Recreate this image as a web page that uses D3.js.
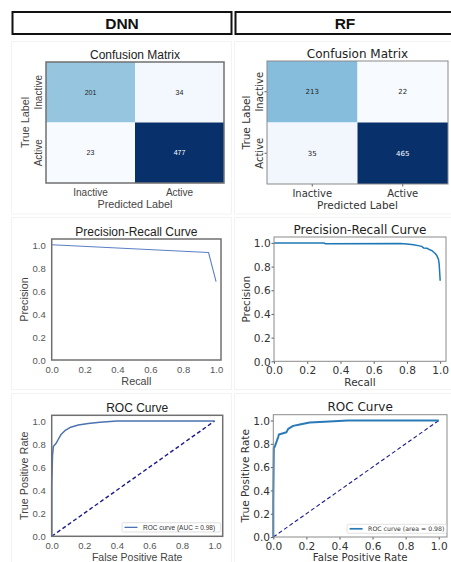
<!DOCTYPE html>
<html>
<head>
<meta charset="utf-8">
<script src="https://cdn.jsdelivr.net/npm/d3@7"></script>
<style>
body { margin: 0; background: #fff; }
svg { display: block; }
</style>
</head>
<body>
<svg id="chart" width="451" height="562"></svg>
<script>
var models = ['DNN', 'RF'];
var cmLabels = ['Inactive', 'Active'];
var cmTitle = 'Confusion Matrix';

// rows = true label, columns = predicted label
var dnnMatrix = [[201, 34], [23, 477]];
var rfMatrix = [[213, 22], [35, 465]];

var dnnPrRecall = [0, 0.954, 1.0];
var dnnPrPrecision = [1.0, 0.933, 0.68];
var rfPrRecall = [0, 0.30, 0.31, 0.76, 0.80, 0.84, 0.875, 0.89, 0.90, 0.92, 0.935, 0.95, 0.96, 0.97, 0.98, 0.99, 0.994, 1.0];
var rfPrPrecision = [1.0, 1.0, 0.993, 0.995, 0.99, 0.985, 0.975, 0.97, 0.958, 0.955, 0.944, 0.935, 0.923, 0.91, 0.893, 0.86, 0.82, 0.68];

var dnnRocFpr = [0, 0, 0.005, 0.01, 0.026, 0.04, 0.057, 0.081, 0.112, 0.163, 0.224, 0.296, 0.4, 1.0];
var dnnRocTpr = [0, 0.45, 0.70, 0.78, 0.805, 0.84, 0.883, 0.916, 0.944, 0.965, 0.979, 0.99, 1.0, 1.0];
var rfRocFpr = [0, 0, 0.003, 0.01, 0.02, 0.03, 0.034, 0.08, 0.09, 0.12, 0.16, 0.22, 0.31, 0.45, 1.0];
var rfRocTpr = [0, 0.306, 0.763, 0.78, 0.82, 0.86, 0.88, 0.90, 0.928, 0.954, 0.966, 0.983, 0.99, 1.0, 1.0];

var rateTicks = [0, 0.2, 0.4, 0.6, 0.8, 1.0];
var legendLabels = { DNN: 'ROC curve (AUC = 0.98)', RF: 'ROC curve (area = 0.98)' };

var styles = {
	DNN: { font: "'Liberation Sans', Arial, sans-serif", tick: 9.5, label: 10.8, title: 12, tickFill: '#555', textFill: '#444', frame: '#707070', frameW: 1.5,
		mark: 0, yPad: 6, tickY: 9.7, prColor: '#5a7fc2', prW: 1.1, rocColor: '#4c72b0', rocW: 1.5, diagW: 1.4, legendFont: 6.5, legendW: 98.7, legendH: 9.3, legendR: 2, legendB: 4.3 },
	RF: { font: "'DejaVu Sans', sans-serif", tick: 10.6, label: 10.5, title: 12, tickFill: '#333', textFill: '#333', frame: '#8a8a8a', frameW: 1,
		mark: 2.5, yPad: 3.3, tickY: 8.8, prColor: '#1f77b4', prW: 1.5, rocColor: '#2a7ab8', rocW: 2, diagW: 1.1, legendFont: 6.2, legendW: 99.4, legendH: 9, legendR: 0.5, legendB: 3.7 }
};

var layout = {
	DNN: { col: 11.5, cm: { x0: 46, x1: 224, y0: 62, y1: 183 }, pr: { x0: 51.7, x1: 221, y0: 239, y1: 360, xMax: 1.03 }, roc: { x0: 51.7, x1: 222.7, y0: 415.3, y1: 536.3, xMax: 1.05 } },
	RF: { col: 234.5, cm: { x0: 267, x1: 448, y0: 61, y1: 184 }, pr: { x0: 274, x1: 446, y0: 237, y1: 361.3, xMax: 1.035 }, roc: { x0: 273.3, x1: 447, y0: 414.7, y1: 537, xMax: 1.05 } }
};

var svg = d3.select( '#chart' );

// faint panel outlines
var rows = [ [41.5, 172.5], [217.5, 172], [393.5, 170] ];
models.forEach( function ( m ) {
	rows.forEach( function ( r ) {
		svg.append( 'rect' )
			.attr( 'x', layout[m].col ).attr( 'y', r[0] )
			.attr( 'width', 220 ).attr( 'height', r[1] )
			.attr( 'fill', 'none' ).attr( 'stroke', '#f3f3f3' ).attr( 'stroke-width', 1 );
	} );

	// header box
	svg.append( 'rect' )
		.attr( 'x', layout[m].col + 1 ).attr( 'y', 12 )
		.attr( 'width', 219 ).attr( 'height', 22 )
		.attr( 'fill', '#fff' ).attr( 'stroke', '#111' ).attr( 'stroke-width', 2 );
	svg.append( 'text' )
		.attr( 'x', layout[m].col + 110.5 ).attr( 'y', 28.5 )
		.attr( 'text-anchor', 'middle' )
		.style( 'font-family', "'Liberation Sans', Arial, sans-serif" )
		.style( 'font-weight', 'bold' ).style( 'font-size', '15.5px' ).attr( 'fill', '#111' )
		.text( m );
} );

function addText( g, s, size, fill ) {
	return g.append( 'text' )
		.style( 'font-family', s.font ).style( 'font-size', size + 'px' )
		.attr( 'fill', fill || '#222' );
}

function titles( g, s, b, title, xLabel, yLabel, yGap, xGap, xSize ) {
	addText( g, s, s.title )
		.attr( 'x', ( b.x0 + b.x1 ) / 2 ).attr( 'y', b.y0 - 7.5 ).attr( 'dy', '0.35em' )
		.attr( 'text-anchor', 'middle' ).text( title );
	addText( g, s, xSize || s.label, s.textFill )
		.attr( 'x', ( b.x0 + b.x1 ) / 2 ).attr( 'y', b.y1 + ( xGap || 21.5 ) ).attr( 'dy', '0.35em' )
		.attr( 'text-anchor', 'middle' ).text( xLabel );
	addText( g, s, s.label, s.textFill )
		.attr( 'transform', 'translate(' + ( b.x0 - yGap ) + ',' + ( ( b.y0 + b.y1 ) / 2 ) + ') rotate(-90)' )
		.attr( 'dy', '0.35em' ).attr( 'text-anchor', 'middle' ).text( yLabel );
}

function frame( g, s, b ) {
	g.append( 'rect' )
		.attr( 'x', b.x0 ).attr( 'y', b.y0 )
		.attr( 'width', b.x1 - b.x0 ).attr( 'height', b.y1 - b.y0 )
		.attr( 'fill', 'none' ).attr( 'stroke', s.frame ).attr( 'stroke-width', s.frameW );
}

function drawCM( m, matrix ) {
	var s = styles[m], b = layout[m].cm;
	var g = svg.append( 'g' );

	var x = d3.scaleBand().domain( cmLabels ).range( [ b.x0, b.x1 ] );
	var y = d3.scaleBand().domain( cmLabels ).range( [ b.y0, b.y1 ] );
	var flat = d3.merge( matrix );
	var color = d3.scaleSequential( d3.interpolateBlues ).domain( d3.extent( flat ) );
	var thresh = d3.max( flat ) / 2;

	var cells = [];
	matrix.forEach( function ( row, i ) {
		row.forEach( function ( v, j ) {
			cells.push( { t: cmLabels[i], p: cmLabels[j], v: v } );
		} );
	} );

	g.selectAll( 'rect.cell' ).data( cells ).enter().append( 'rect' )
		.attr( 'x', function ( d ) { return x( d.p ); } )
		.attr( 'y', function ( d ) { return y( d.t ); } )
		.attr( 'width', x.bandwidth() ).attr( 'height', y.bandwidth() )
		.attr( 'fill', function ( d ) { return color( d.v ); } );

	g.selectAll( 'text.val' ).data( cells ).enter().append( 'text' )
		.attr( 'x', function ( d ) { return x( d.p ) + x.bandwidth() / 2; } )
		.attr( 'y', function ( d ) { return y( d.t ) + y.bandwidth() / 2; } )
		.attr( 'dy', '0.35em' ).attr( 'text-anchor', 'middle' )
		.style( 'font-family', s.font ).style( 'font-size', '7px' )
		.attr( 'fill', function ( d ) { return d.v > thresh ? '#fff' : '#222'; } )
		.text( function ( d ) { return d.v; } );

	var xa = g.append( 'g' ).attr( 'transform', 'translate(0,' + b.y1 + ')' )
		.call( d3.axisBottom( x ).tickSize( s.mark ) );
	xa.select( '.domain' ).remove();
	xa.selectAll( '.tick line' ).attr( 'stroke', '#333' ).attr( 'stroke-width', 0.8 );
	xa.selectAll( '.tick text' )
		.attr( 'y', 9.7 ).attr( 'dy', '0.35em' )
		.style( 'font-family', s.font ).style( 'font-size', '10px' ).attr( 'fill', s.textFill );

	var ya = g.append( 'g' ).attr( 'transform', 'translate(' + b.x0 + ',0)' )
		.call( d3.axisLeft( y ).tickSize( s.mark ).tickFormat( '' ) );
	ya.select( '.domain' ).remove();
	ya.selectAll( '.tick line' ).attr( 'stroke', '#333' ).attr( 'stroke-width', 0.8 );

	g.selectAll( 'text.ytick' ).data( cmLabels ).enter().append( 'text' )
		.attr( 'transform', function ( d ) {
			return 'translate(' + ( b.x0 - 8 ) + ',' + ( y( d ) + y.bandwidth() / 2 ) + ') rotate(-90)';
		} )
		.attr( 'dy', '0.35em' ).attr( 'text-anchor', 'middle' )
		.style( 'font-family', s.font ).style( 'font-size', '10px' ).attr( 'fill', s.textFill )
		.text( function ( d ) { return d; } );

	frame( g, s, b );
	titles( g, s, b, cmTitle, 'Predicted Label', 'True Label', 20.5 );
}

function drawCurve( m, kind, xs, ys ) {
	var s = styles[m], b = layout[m][kind];
	var g = svg.append( 'g' );

	var x = d3.scaleLinear().domain( [ 0, b.xMax ] ).range( [ b.x0, b.x1 ] );
	var y = d3.scaleLinear().domain( [ 0, 1.05 ] ).range( [ b.y1, b.y0 ] );

	var xa = g.append( 'g' ).attr( 'transform', 'translate(0,' + b.y1 + ')' )
		.call( d3.axisBottom( x ).tickValues( rateTicks ).tickFormat( d3.format( '.1f' ) ).tickSize( s.mark ) );
	var ya = g.append( 'g' ).attr( 'transform', 'translate(' + b.x0 + ',0)' )
		.call( d3.axisLeft( y ).tickValues( rateTicks ).tickFormat( d3.format( '.1f' ) ).tickSize( s.mark ) );
	[ xa, ya ].forEach( function ( a ) {
		a.select( '.domain' ).remove();
		a.selectAll( '.tick line' ).attr( 'stroke', '#333' ).attr( 'stroke-width', 0.8 );
		a.selectAll( '.tick text' )
			.style( 'font-family', s.font ).style( 'font-size', s.tick + 'px' ).attr( 'fill', s.tickFill )
			.attr( 'dy', '0.35em' );
	} );
	xa.selectAll( '.tick text' ).attr( 'y', s.tickY );
	ya.selectAll( '.tick text' ).attr( 'x', -s.yPad );

	var line = d3.line()
		.x( function ( i ) { return x( xs[i] ); } )
		.y( function ( i ) { return y( ys[i] ); } );

	if ( kind === 'roc' ) {
		g.append( 'line' )
			.attr( 'x1', x( 0 ) ).attr( 'y1', y( 0 ) )
			.attr( 'x2', x( 1 ) ).attr( 'y2', y( 1 ) )
			.attr( 'stroke', '#1a1a8c' ).attr( 'stroke-width', s.diagW )
			.attr( 'stroke-dasharray', '4,2.6' );
	}

	g.append( 'path' )
		.datum( d3.range( xs.length ) )
		.attr( 'd', line )
		.attr( 'fill', 'none' )
		.attr( 'stroke', kind === 'roc' ? s.rocColor : s.prColor )
		.attr( 'stroke-width', kind === 'roc' ? s.rocW : s.prW )
		.attr( 'stroke-linejoin', 'round' );

	frame( g, s, b );

	if ( kind === 'roc' ) {
		titles( g, s, b, 'ROC Curve', 'False Positive Rate', 'True Positive Rate', 27.5, 20.6, s.label - 0.3 );

		var lx = b.x1 - s.legendR - s.legendW;
		var ly = b.y1 - s.legendB - s.legendH;
		var leg = g.append( 'g' ).attr( 'transform', 'translate(' + lx + ',' + ly + ')' );
		leg.append( 'rect' )
			.attr( 'width', s.legendW ).attr( 'height', s.legendH ).attr( 'rx', 1.5 )
			.attr( 'fill', '#fff' ).attr( 'stroke', '#cfcfcf' ).attr( 'stroke-width', 0.6 );
		leg.append( 'line' )
			.attr( 'x1', 2.5 ).attr( 'x2', 15.5 )
			.attr( 'y1', s.legendH / 2 ).attr( 'y2', s.legendH / 2 )
			.attr( 'stroke', s.rocColor ).attr( 'stroke-width', s.rocW * 0.85 );
		addText( leg, s, s.legendFont, '#333' )
			.attr( 'x', 21 ).attr( 'y', s.legendH / 2 ).attr( 'dy', '0.35em' )
			.text( legendLabels[m] );
	} else {
		titles( g, s, b, 'Precision-Recall Curve', 'Recall', 'Precision', 27.5 );
	}
}

drawCM( 'DNN', dnnMatrix );
drawCM( 'RF', rfMatrix );
drawCurve( 'DNN', 'pr', dnnPrRecall, dnnPrPrecision );
drawCurve( 'RF', 'pr', rfPrRecall, rfPrPrecision );
drawCurve( 'DNN', 'roc', dnnRocFpr, dnnRocTpr );
drawCurve( 'RF', 'roc', rfRocFpr, rfRocTpr );
</script>
</body>
</html>
